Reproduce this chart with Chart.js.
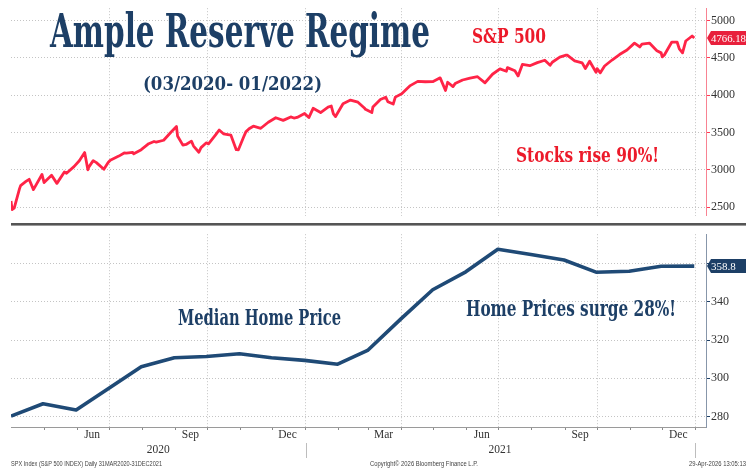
<!DOCTYPE html>
<html>
<head>
<meta charset="utf-8">
<script src="https://cdn.jsdelivr.net/npm/chart.js@4.4.1/dist/chart.umd.min.js"></script>
<style>
html, body { margin: 0; padding: 0; background: #fff; }
#wrap { position: relative; width: 746px; height: 470px; overflow: hidden; background: #fff; }
#wrap canvas { position: absolute; left: 0; }
.note { position: absolute; white-space: nowrap; line-height: 1; transform-origin: 0 0; }
#sep1 { position: absolute; left: 11px; top: 223px; width: 735px; height: 2px; background: #555; }
#sep2 { position: absolute; left: 11px; top: 225px; width: 735px; height: 1px; background: #9a9a9a; }
</style>
</head>
<body>
<div id="wrap">
  <canvas id="spx" width="746" height="224" style="top:0"></canvas>
  <canvas id="home" width="746" height="244" style="top:226px"></canvas>
  <div id="sep1"></div>
  <div id="sep2"></div>
</div>
<script>
// données S&P 500 (clôtures)
const spxDates = [
  '2020-03-31','2020-04-01','2020-04-03','2020-04-08','2020-04-09','2020-04-14','2020-04-17','2020-04-21','2020-04-29','2020-05-01',
  '2020-05-08','2020-05-13','2020-05-15','2020-05-20','2020-05-22','2020-05-29','2020-06-03','2020-06-08','2020-06-11','2020-06-12',
  '2020-06-16','2020-06-19','2020-06-26','2020-06-30','2020-07-02','2020-07-10','2020-07-15','2020-07-17','2020-07-23','2020-07-24',
  '2020-07-31','2020-08-07','2020-08-12','2020-08-14','2020-08-21','2020-08-28','2020-09-02','2020-09-03','2020-09-08','2020-09-11',
  '2020-09-16','2020-09-18','2020-09-23','2020-09-25','2020-09-30','2020-10-02','2020-10-09','2020-10-12','2020-10-16','2020-10-23',
  '2020-10-28','2020-10-30','2020-11-04','2020-11-06','2020-11-09','2020-11-13','2020-11-20','2020-11-27','2020-12-04','2020-12-11',
  '2020-12-18','2020-12-21','2020-12-24','2020-12-31','2021-01-04','2021-01-08','2021-01-15','2021-01-22','2021-01-25','2021-01-27',
  '2021-01-29','2021-02-05','2021-02-12','2021-02-19','2021-02-25','2021-02-26','2021-03-04','2021-03-05','2021-03-12','2021-03-17',
  '2021-03-19','2021-03-24','2021-03-26','2021-04-01','2021-04-09','2021-04-16','2021-04-23','2021-04-30','2021-05-07','2021-05-12',
  '2021-05-14','2021-05-19','2021-05-21','2021-05-28','2021-06-04','2021-06-11','2021-06-18','2021-06-25','2021-07-02','2021-07-08',
  '2021-07-09','2021-07-16','2021-07-19','2021-07-23','2021-07-30','2021-08-06','2021-08-13','2021-08-18','2021-08-20','2021-08-27',
  '2021-09-02','2021-09-03','2021-09-10','2021-09-17','2021-09-20','2021-09-24','2021-09-30','2021-10-01','2021-10-04','2021-10-08',
  '2021-10-15','2021-10-22','2021-10-29','2021-11-05','2021-11-10','2021-11-12','2021-11-19','2021-11-26','2021-11-30','2021-12-01',
  '2021-12-03','2021-12-10','2021-12-15','2021-12-17','2021-12-20','2021-12-23','2021-12-29','2021-12-31'
];
const spxValues = [
  2584.59, 2470.50, 2488.65, 2749.98, 2789.82, 2846.06, 2874.56, 2736.56, 2939.51, 2830.71,
  2929.80, 2820.00, 2863.70, 2971.61, 2955.45, 3044.31, 3122.87, 3232.39, 3002.10, 3041.31,
  3124.74, 3097.74, 3009.05, 3100.29, 3130.01, 3185.04, 3226.56, 3224.73, 3235.66, 3215.63,
  3271.12, 3351.28, 3380.35, 3372.85, 3397.16, 3508.01, 3580.84, 3455.06, 3331.84, 3340.97,
  3385.49, 3319.47, 3236.92, 3298.46, 3363.00, 3348.44, 3477.13, 3534.22, 3483.34, 3465.39,
  3271.03, 3269.96, 3443.44, 3509.44, 3550.50, 3585.15, 3557.54, 3638.35, 3699.12, 3663.46,
  3709.41, 3694.92, 3703.06, 3756.07, 3700.65, 3824.68, 3768.25, 3841.47, 3855.36, 3750.77,
  3714.24, 3886.83, 3934.83, 3906.71, 3829.34, 3811.15, 3768.47, 3841.94, 3943.34, 3974.12,
  3913.10, 3881.37, 3974.54, 4019.87, 4128.80, 4185.47, 4180.17, 4181.17, 4232.60, 4063.04,
  4173.85, 4115.68, 4155.86, 4204.11, 4229.89, 4247.44, 4166.45, 4280.70, 4352.34, 4320.82,
  4369.55, 4327.16, 4258.49, 4411.79, 4395.26, 4436.52, 4468.00, 4400.27, 4441.67, 4509.37,
  4536.95, 4535.43, 4458.58, 4432.99, 4357.73, 4455.48, 4307.54, 4357.04, 4300.46, 4391.34,
  4471.37, 4544.90, 4605.38, 4697.53, 4646.71, 4682.85, 4697.96, 4594.62, 4567.00, 4513.04,
  4538.43, 4712.02, 4709.85, 4620.64, 4568.02, 4725.79, 4793.06, 4766.18
];

// prix médian des maisons (mensuel, fin de mois)
const homeDates = [
  '2020-03-31','2020-04-30','2020-05-31','2020-06-30','2020-07-31','2020-08-31','2020-09-30','2020-10-31','2020-11-30','2020-12-31',
  '2021-01-31','2021-02-28','2021-03-31','2021-04-30','2021-05-31','2021-06-30','2021-07-31','2021-08-31','2021-09-30','2021-10-31',
  '2021-11-30','2021-12-31'
];
const homeValues = [
  280.2, 286.7, 283.4, 294.5, 306.1, 310.8, 311.4, 312.9, 310.8, 309.4,
  307.4, 314.6, 331.0, 346.4, 355.8, 367.6, 364.9, 362.0, 355.6, 356.1,
  358.7, 358.8
];

// axes
const spxTicks = [2500, 3000, 3500, 4000, 4500, 5000];
const homeTicks = [280, 300, 320, 340, 360];
const monthTicks = [
  '2020-05-01','2020-06-01','2020-07-01','2020-08-01','2020-09-01','2020-10-01','2020-11-01','2020-12-01','2021-01-01',
  '2021-02-01','2021-03-01','2021-04-01','2021-05-01','2021-06-01','2021-07-01','2021-08-01','2021-09-01','2021-10-01',
  '2021-11-01','2021-12-01','2022-01-01'
];
const quarterLines = ['2020-07-01','2020-10-01','2021-01-01','2021-04-01','2021-07-01','2021-10-01','2022-01-01'];
const monthLabels = ['Jun', 'Sep', 'Dec', 'Mar', 'Jun', 'Sep', 'Dec'];
const monthLabelDates = ['2020-06-15','2020-09-15','2020-12-15','2021-03-15','2021-06-15','2021-09-15','2021-12-16'];
const yearLabels = ['2020', '2021'];
const yearLabelDates = ['2020-08-16', '2021-07-02'];
const yearBreaks = ['2021-01-01', '2022-01-01'];
const START = '2020-03-31';
const END = '2022-01-11';

const NAVY = '#1d3f66';
const LINE_NAVY = '#1f4a76';
const RED = '#ec1a2a';
const LINE_RED = '#ff2447';
const GRID = '#c4c4c4';

function day(s) {
  return (Date.parse(s) - Date.parse(START)) / 864e5;
}

const quarterSet = new Set(quarterLines.map(day));
const markSet = new Set(monthTicks.map(day));
const labelAt = new Map();
monthLabelDates.forEach((d, i) => labelAt.set(day(d), monthLabels[i]));
yearLabelDates.forEach((d, i) => labelAt.set(day(d), ['', yearLabels[i]]));
const xTickValues = [...new Set([...markSet, ...labelAt.keys()])].sort((a, b) => a - b);

function xScale(showLabels) {
  return {
    type: 'linear',
    min: 0,
    max: day(END),
    afterBuildTicks: s => { s.ticks = xTickValues.map(v => ({ value: v })); },
    afterFit: s => { s.height = showLabels ? 30 : 0; },
    ticks: {
      display: showLabels,
      autoSkip: false,
      maxRotation: 0,
      padding: -2,
      color: '#333',
      font: { family: '"Liberation Sans Narrow"', size: 11.5, lineHeight: 1.25 },
      callback: v => labelAt.get(v) || ''
    },
    grid: {
      color: c => (c.tick && quarterSet.has(c.tick.value)) ? GRID : 'rgba(0,0,0,0)',
      tickColor: c => (c.tick && markSet.has(c.tick.value)) ? '#8a8a8a' : 'rgba(0,0,0,0)',
      tickLength: 3,
      drawTicks: showLabels
    },
    border: { display: showLabels, color: '#9a9a9a', dash: [1, 2] }
  };
}

function yScale(min, max, values, tickColor, borderColor) {
  return {
    position: 'right',
    min: min,
    max: max,
    afterBuildTicks: s => { s.ticks = values.map(v => ({ value: v })); },
    afterFit: s => { s.width = 40; },
    ticks: {
      color: '#333',
      padding: 1,
      font: { family: '"Liberation Sans Narrow"', size: 12 },
      callback: v => String(v)
    },
    grid: { color: GRID, tickColor: tickColor, tickLength: 4 },
    border: { color: borderColor, dash: [1, 2] }
  };
}

// étiquette de la dernière valeur, à droite de l'axe
const lastValueBox = {
  id: 'lastValueBox',
  afterDraw(chart, args, opts) {
    const data = chart.data.datasets[0].data;
    const last = data[data.length - 1].y;
    const y = chart.scales.y.getPixelForValue(last);
    const x = chart.chartArea.right + 1;
    const w = chart.width - x;
    const h = 14;
    const ctx = chart.ctx;
    ctx.save();
    ctx.fillStyle = opts.color;
    ctx.beginPath();
    ctx.moveTo(x, y);
    ctx.lineTo(x + 4, y - h / 2);
    ctx.lineTo(x + w, y - h / 2);
    ctx.lineTo(x + w, y + h / 2);
    ctx.lineTo(x + 4, y + h / 2);
    ctx.closePath();
    ctx.fill();
    ctx.fillStyle = '#fff';
    ctx.font = '11px "Liberation Sans Narrow"';
    ctx.textBaseline = 'middle';
    ctx.fillText(last.toFixed(opts.decimals), x + 4, y + 1, w - 4);
    ctx.restore();
  }
};

// petits traits verticaux sous l'axe entre les années
const yearDividers = {
  id: 'yearDividers',
  afterDraw(chart) {
    const ctx = chart.ctx;
    const bottom = chart.chartArea.bottom;
    ctx.save();
    ctx.strokeStyle = '#bdbdbd';
    ctx.lineWidth = 1;
    yearBreaks.forEach(d => {
      const x = Math.round(chart.scales.x.getPixelForValue(day(d))) + 0.5;
      ctx.beginPath();
      ctx.moveTo(x, bottom + 16);
      ctx.lineTo(x, bottom + 31);
      ctx.stroke();
    });
    ctx.restore();
  }
};

new Chart(document.getElementById('spx'), {
  type: 'line',
  data: {
    datasets: [{
      data: spxDates.map((d, i) => ({ x: day(d), y: spxValues[i] })),
      borderColor: LINE_RED,
      borderWidth: 2.8,
      pointRadius: 0,
      tension: 0,
      borderJoinStyle: 'round'
    }]
  },
  options: {
    responsive: false,
    animation: false,
    layout: { padding: { left: 11, top: 5, right: 0, bottom: 0 } },
    plugins: {
      legend: { display: false },
      tooltip: { enabled: false },
      lastValueBox: { color: '#e8203c', decimals: 2 }
    },
    scales: {
      x: xScale(false),
      y: yScale(2386, 5165, spxTicks, '#ff3a55', 'rgba(245,90,110,0.75)')
    }
  },
  plugins: [lastValueBox]
});

new Chart(document.getElementById('home'), {
  type: 'line',
  data: {
    datasets: [{
      data: homeDates.map((d, i) => ({ x: day(d), y: homeValues[i] })),
      borderColor: LINE_NAVY,
      borderWidth: 3.6,
      pointRadius: 0,
      tension: 0,
      borderJoinStyle: 'round'
    }]
  },
  options: {
    responsive: false,
    animation: false,
    layout: { padding: { left: 11, top: 1, right: 0, bottom: 13 } },
    plugins: {
      legend: { display: false },
      tooltip: { enabled: false },
      lastValueBox: { color: '#1d3f66', decimals: 1 }
    },
    scales: {
      x: xScale(true),
      y: yScale(274.5, 375.5, homeTicks, NAVY, '#8796aa')
    }
  },
  plugins: [lastValueBox, yearDividers]
});

// textes posés sur le graphique
const TITLE_FONT = '"DejaVu Serif Condensed", "DejaVu Serif", serif';
const SMALL_FONT = '"Liberation Sans Narrow", sans-serif';
const notes = [
  { text: 'Ample Reserve Regime', x: 50, base: 47, size: 46.5, width: 380, color: NAVY, font: TITLE_FONT, bold: true },
  { text: '(03/2020- 01/2022)', x: 143, base: 91, size: 18.5, width: 179, color: NAVY, font: TITLE_FONT, bold: true },
  { text: 'S&P 500', x: 472, base: 43, size: 20.5, width: 74, color: RED, font: TITLE_FONT, bold: true },
  { text: 'Stocks rise 90%!', x: 516, base: 162, size: 21, width: 143, color: RED, font: TITLE_FONT, bold: true },
  { text: 'Median Home Price', x: 178, base: 325, size: 21.5, width: 163, color: NAVY, font: TITLE_FONT, bold: true },
  { text: 'Home Prices surge 28%!', x: 466, base: 316, size: 21.5, width: 210, color: NAVY, font: TITLE_FONT, bold: true },
  { text: 'SPX Index (S&P 500 INDEX) Daily 31MAR2020-31DEC2021', x: 11, base: 466, size: 7, width: 151, color: '#444', font: SMALL_FONT },
  { text: 'Copyright\u00A9 2026 Bloomberg Finance L.P.', x: 370, base: 466, size: 7, width: 108, color: '#444', font: SMALL_FONT },
  { text: '29-Apr-2026 13:05:13', x: 689, base: 466, size: 7, width: 57, color: '#444', font: SMALL_FONT }
];

const wrap = document.getElementById('wrap');
notes.forEach(n => {
  const el = document.createElement('div');
  el.className = 'note';
  el.textContent = n.text;
  el.style.fontFamily = n.font;
  el.style.fontSize = n.size + 'px';
  el.style.fontWeight = n.bold ? 'bold' : 'normal';
  el.style.color = n.color;
  el.style.left = n.x + 'px';
  el.style.top = (n.base - 0.846 * n.size) + 'px';
  wrap.appendChild(el);
  const natural = el.getBoundingClientRect().width;
  el.style.transform = 'scaleX(' + (n.width / natural) + ')';
});
</script>
</body>
</html>
